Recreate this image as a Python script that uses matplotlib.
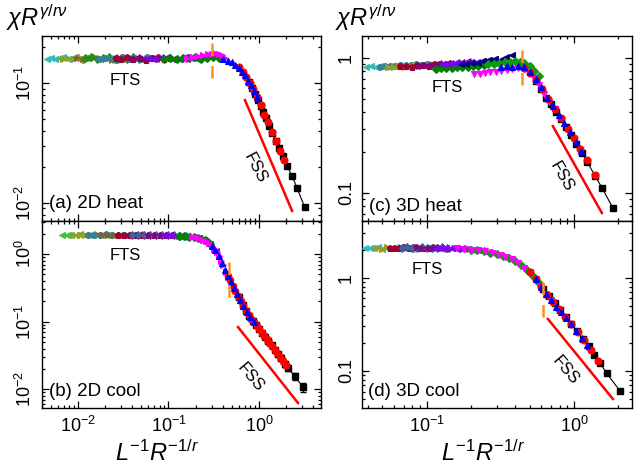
"""
Scaling collapse of the susceptibility chi*R^(gamma/r nu) against L^-1 R^-1/r,
four panels: 2D / 3D, heating / cooling.
"""

import matplotlib
matplotlib.use("Agg")
import matplotlib.pyplot as plt
from matplotlib.ticker import LogLocator, NullFormatter, FixedLocator, FixedFormatter

plt.rcParams['font.family'] = ['Liberation Sans', 'DejaVu Sans']
plt.rcParams['mathtext.fontset'] = 'custom'
plt.rcParams['mathtext.rm'] = 'Liberation Sans'
plt.rcParams['mathtext.it'] = 'Liberation Sans:italic'
plt.rcParams['mathtext.bf'] = 'Liberation Sans:bold'

# ---------------- (a) 2D heat ----------------
a_cyan_x = [0.0045, 0.0050, 0.0056, 0.0062, 0.0069, 0.0077, 0.0086, 0.0096, 0.0107, 0.0120]
a_cyan_y = [0.160, 0.163, 0.158, 0.162, 0.165, 0.159, 0.161, 0.164, 0.157, 0.162]
a_olive_x = [0.0068, 0.0078, 0.0090, 0.0103, 0.0118, 0.0136, 0.0156, 0.0180, 0.0207, 0.0238]
a_olive_y = [0.158, 0.163, 0.160, 0.166, 0.157, 0.162, 0.164, 0.159, 0.163, 0.160]
a_brown_x = [0.0095, 0.0110, 0.0128, 0.0148, 0.0172, 0.0200, 0.0232, 0.0269, 0.0312, 0.0362]
a_brown_y = [0.163, 0.158, 0.161, 0.165, 0.159, 0.162, 0.157, 0.164, 0.160, 0.163]
a_green_x = [0.0120, 0.0140, 0.0163, 0.0190, 0.0221, 0.0257, 0.0299, 0.0348, 0.0405, 0.0471]
a_green_y = [0.161, 0.166, 0.158, 0.162, 0.164, 0.159, 0.163, 0.160, 0.165, 0.158]
a_teal_x = [0.0170, 0.0198, 0.0231, 0.0269, 0.0313, 0.0365, 0.0425, 0.0495, 0.0577, 0.0672]
a_teal_y = [0.159, 0.163, 0.161, 0.157, 0.165, 0.160, 0.162, 0.158, 0.164, 0.161]
a_dred_x = [0.026, 0.030, 0.035, 0.041, 0.048, 0.056, 0.065, 0.076, 0.089, 0.104]
a_dred_y = [0.162, 0.158, 0.164, 0.160, 0.163, 0.157, 0.161, 0.165, 0.159, 0.162]
a_purple_x = [0.040, 0.047, 0.055, 0.064, 0.075, 0.088, 0.103, 0.120, 0.140, 0.164]
a_purple_y = [0.160, 0.164, 0.158, 0.162, 0.159, 0.165, 0.161, 0.158, 0.163, 0.160]
a_violet_x = [0.060, 0.070, 0.082, 0.096, 0.112, 0.131, 0.153, 0.179, 0.209, 0.245]
a_violet_y = [0.163, 0.159, 0.161, 0.166, 0.160, 0.158, 0.164, 0.162, 0.159, 0.163]
a_dgreen_x = [0.090, 0.105, 0.123, 0.144, 0.168, 0.196, 0.229, 0.268, 0.313, 0.366]
a_dgreen_y = [0.160, 0.163, 0.158, 0.162, 0.161, 0.165, 0.159, 0.163, 0.166, 0.162]
a_magenta_x = [0.16, 0.185, 0.21, 0.24, 0.27, 0.30, 0.33, 0.36, 0.39, 0.42]
a_magenta_y = [0.162, 0.165, 0.168, 0.171, 0.174, 0.176, 0.177, 0.175, 0.170, 0.163]
a_blue_x = [0.40, 0.45, 0.50, 0.55, 0.60, 0.65, 0.70, 0.76, 0.82, 0.88, 0.95]
a_blue_y = [0.160, 0.153, 0.149, 0.141, 0.134, 0.124, 0.117, 0.104, 0.096, 0.085, 0.076]
a_red_x = [0.60, 0.66, 0.72, 0.79, 0.86, 0.95, 1.04, 1.15, 1.27, 1.40, 1.55, 1.72, 1.90]
a_red_y = [0.136, 0.124, 0.113, 0.100, 0.089, 0.076, 0.065, 0.054, 0.047, 0.039, 0.033, 0.027, 0.023]
a_black_x = [0.78, 0.84, 0.90, 0.97, 1.04, 1.12, 1.20, 1.30, 1.41, 1.53, 1.66, 1.82, 2.04, 2.32, 2.63, 3.20]
a_black_y = [0.101, 0.091, 0.081, 0.072, 0.064, 0.057, 0.051, 0.044, 0.038, 0.033, 0.029, 0.0245,
             0.0204, 0.0168, 0.0134, 0.0092]
a_cross_x = 0.30
a_cross_y = [0.11, 0.2465]
a_fss_x = [0.70, 2.32]
a_fss_y = [0.072, 0.0086]

# ---------------- (b) 2D cool ----------------
b_green_x = [0.0067, 0.0075, 0.0084, 0.0094, 0.0105, 0.0118, 0.0132, 0.0148, 0.0166, 0.0186, 0.0208]
b_green_y = [1.90, 1.94, 1.88, 1.92, 1.95, 1.89, 1.93, 1.90, 1.94, 1.88, 1.92]
b_olive_x = [0.0090, 0.0104, 0.0120, 0.0139, 0.0161, 0.0186, 0.0215, 0.0249, 0.0288, 0.0333]
b_olive_y = [1.92, 1.88, 1.93, 1.90, 1.95, 1.89, 1.91, 1.94, 1.88, 1.92]
b_teal_x = [0.0130, 0.0151, 0.0175, 0.0203, 0.0236, 0.0274, 0.0318, 0.0369, 0.0428, 0.0497]
b_teal_y = [1.89, 1.93, 1.91, 1.95, 1.88, 1.92, 1.94, 1.89, 1.91, 1.93]
b_brown_x = [0.018, 0.021, 0.0244, 0.0283, 0.0329, 0.0382, 0.0444, 0.0516, 0.060, 0.070]
b_brown_y = [1.93, 1.89, 1.92, 1.88, 1.94, 1.90, 1.92, 1.95, 1.89, 1.91]
b_dred_x = [0.028, 0.0325, 0.0378, 0.044, 0.051, 0.059, 0.069, 0.080, 0.093, 0.108]
b_dred_y = [1.90, 1.94, 1.89, 1.92, 1.88, 1.93, 1.91, 1.89, 1.92, 1.88]
b_slate_x = [0.040, 0.0465, 0.054, 0.063, 0.073, 0.085, 0.099, 0.115, 0.134, 0.156]
b_slate_y = [1.92, 1.89, 1.94, 1.90, 1.91, 1.88, 1.92, 1.89, 1.86, 1.84]
b_purple_x = [0.060, 0.070, 0.081, 0.094, 0.109, 0.127, 0.147, 0.171, 0.198, 0.23]
b_purple_y = [1.91, 1.88, 1.93, 1.89, 1.90, 1.87, 1.86, 1.82, 1.78, 1.70]
b_violet_x = [0.09, 0.104, 0.12, 0.139, 0.161, 0.186, 0.215, 0.249, 0.288, 0.333]
b_violet_y = [1.89, 1.90, 1.87, 1.86, 1.81, 1.79, 1.72, 1.60, 1.40, 1.12]
b_dgreen_x = [0.13, 0.15, 0.17, 0.19, 0.21, 0.23, 0.25, 0.27, 0.29]
b_dgreen_y = [1.86, 1.84, 1.80, 1.79, 1.75, 1.68, 1.60, 1.50, 1.39]
b_magenta_x = [0.18, 0.20, 0.22, 0.24, 0.26, 0.28, 0.30, 0.32, 0.34, 0.36, 0.38, 0.40, 0.43, 0.46, 0.50]
b_magenta_y = [1.80, 1.76, 1.71, 1.64, 1.55, 1.45, 1.33, 1.20, 1.06, 0.92, 0.79, 0.68, 0.55, 0.45, 0.35]
b_blue_x = [0.30, 0.33, 0.36, 0.39, 0.42, 0.45, 0.49, 0.53, 0.57, 0.62, 0.67, 0.73, 0.80, 0.87]
b_blue_y = [1.33, 1.13, 0.92, 0.73, 0.59, 0.48, 0.38, 0.31, 0.26, 0.21, 0.172, 0.141, 0.117, 0.100]
b_red_x = [0.45, 0.48, 0.51, 0.55, 0.59, 0.63, 0.67, 0.72, 0.77, 0.82, 0.88, 0.94, 1.00, 1.07,
           1.14, 1.22, 1.30, 1.40, 1.50, 1.60, 1.72, 1.85, 2.0]
b_red_y = [0.48, 0.41, 0.34, 0.28, 0.24, 0.205, 0.172, 0.145, 0.125, 0.110, 0.098, 0.087, 0.078, 0.069,
           0.062, 0.055, 0.049, 0.043, 0.038, 0.034, 0.030, 0.026, 0.0225]
b_red_err = [0.03, 0.025, 0.02, 0.017, 0.015, 0.013, 0.011, 0.01, 0.009, 0.008, 0.007, 0.0065, 0.006,
             0.0055, 0.005, 0.0045, 0.004, 0.0037, 0.0034, 0.003, 0.0028, 0.0025, 0.0022]
b_black_x = [0.60, 0.66, 0.72, 0.78, 0.85, 0.92, 1.00, 1.08, 1.17, 1.27, 1.38, 1.50, 1.63, 1.77,
             1.92, 2.09, 2.50, 3.06]
b_black_y = [0.232, 0.178, 0.145, 0.122, 0.103, 0.090, 0.078, 0.068, 0.060, 0.052, 0.045, 0.038,
             0.033, 0.029, 0.024, 0.0206, 0.0155, 0.0108]
b_black_err = [0.012, 0.01, 0.008, 0.007, 0.006, 0.0055, 0.005, 0.0045, 0.004, 0.0037, 0.0034, 0.003,
               0.0028, 0.0026, 0.0024, 0.0022, 0.002, 0.0017]
b_cross_x = 0.467
b_cross_y = [0.231, 0.90]
b_fss_x = [0.586, 2.70]
b_fss_y = [0.0832, 0.00625]

# ---------------- (c) 3D heat ----------------
c_cyan_x = [0.039, 0.042, 0.045, 0.048, 0.052, 0.056, 0.060, 0.065, 0.070, 0.075]
c_cyan_y = [0.860, 0.872, 0.864, 0.876, 0.868, 0.880, 0.874, 0.886, 0.878, 0.890]
c_teal_x = [0.048, 0.052, 0.056, 0.061, 0.066, 0.072, 0.078, 0.085, 0.092, 0.100]
c_teal_y = [0.866, 0.874, 0.880, 0.872, 0.888, 0.894, 0.886, 0.902, 0.896, 0.910]
c_olive_x = [0.055, 0.060, 0.065, 0.071, 0.077, 0.084, 0.091, 0.099, 0.108, 0.117]
c_olive_y = [0.856, 0.866, 0.872, 0.864, 0.880, 0.886, 0.878, 0.894, 0.900, 0.892]
c_dred_x = [0.066, 0.072, 0.079, 0.086, 0.094, 0.103, 0.112, 0.122, 0.133, 0.145]
c_dred_y = [0.870, 0.878, 0.868, 0.886, 0.894, 0.884, 0.904, 0.912, 0.900, 0.920]
c_purple_x = [0.088, 0.096, 0.105, 0.115, 0.126, 0.138, 0.151, 0.165, 0.180, 0.197]
c_purple_y = [0.884, 0.896, 0.890, 0.908, 0.918, 0.912, 0.930, 0.940, 0.934, 0.952]
c_dgreen_x = [0.115, 0.125, 0.136, 0.148, 0.161, 0.175, 0.190, 0.207, 0.225, 0.245]
c_dgreen_y = [0.836, 0.842, 0.850, 0.846, 0.858, 0.866, 0.862, 0.874, 0.880, 0.888]
c_violet_x = [0.13, 0.142, 0.155, 0.169, 0.184, 0.201, 0.219, 0.239, 0.261, 0.285]
c_violet_y = [0.900, 0.912, 0.920, 0.916, 0.936, 0.946, 0.942, 0.962, 0.970, 0.984]
c_navy_x = [0.17, 0.186, 0.203, 0.222, 0.243, 0.265, 0.29, 0.317, 0.346, 0.378]
c_navy_y = [0.905, 0.915, 0.930, 0.925, 0.950, 0.965, 0.985, 0.975, 1.02, 1.06]
c_magenta_x = [0.21, 0.23, 0.25, 0.27, 0.295, 0.32, 0.35, 0.38, 0.42, 0.46, 0.50, 0.54, 0.58, 0.63,
               0.68, 0.74]
c_magenta_y = [0.760, 0.770, 0.774, 0.786, 0.794, 0.800, 0.816, 0.834, 0.850, 0.840, 0.780, 0.710,
               0.630, 0.540, 0.470, 0.420]
c_green_x = [0.26, 0.285, 0.31, 0.34, 0.37, 0.40, 0.43, 0.46, 0.50, 0.54, 0.58]
c_green_y = [0.900, 0.912, 0.926, 0.936, 0.944, 0.948, 0.946, 0.930, 0.880, 0.800, 0.740]
c_blue_x = [0.32, 0.35, 0.38, 0.42, 0.46, 0.50, 0.55, 0.60, 0.66, 0.72, 0.79, 0.86, 0.94, 1.03, 1.12]
c_blue_y = [0.862, 0.870, 0.868, 0.874, 0.860, 0.790, 0.700, 0.610, 0.510, 0.440, 0.380, 0.330,
            0.282, 0.238, 0.206]
c_red_x = [0.46, 0.50, 0.55, 0.61, 0.67, 0.74, 0.82, 0.91, 1.00, 1.10, 1.22, 1.39]
c_red_y = [0.850, 0.780, 0.690, 0.590, 0.495, 0.420, 0.360, 0.300, 0.255, 0.213, 0.176, 0.136]
c_black_x = [0.55, 0.60, 0.65, 0.70, 0.76, 0.82, 0.89, 0.96, 1.04, 1.13, 1.23, 1.39, 1.55, 1.84]
c_black_y = [0.675, 0.590, 0.510, 0.455, 0.400, 0.355, 0.310, 0.270, 0.232, 0.198, 0.170, 0.134,
             0.109, 0.077]
c_cross_x = 0.444
c_cross_y = [0.633, 1.21]
c_fss_x = [0.720, 1.55]
c_fss_y = [0.313, 0.0706]

# ---------------- (d) 3D cool ----------------
d_cyan_x = [0.038, 0.041, 0.044, 0.047, 0.050, 0.054, 0.058, 0.062, 0.067, 0.072]
d_cyan_y = [2.06, 2.10, 2.07, 2.11, 2.05, 2.09, 2.08, 2.12, 2.06, 2.10]
d_olive_x = [0.046, 0.050, 0.054, 0.058, 0.063, 0.068, 0.073, 0.079, 0.085, 0.092]
d_olive_y = [2.08, 2.05, 2.11, 2.07, 2.10, 2.06, 2.12, 2.08, 2.05, 2.10]
d_dred_x = [0.056, 0.060, 0.065, 0.070, 0.076, 0.082, 0.088, 0.095, 0.103, 0.111]
d_dred_y = [2.10, 2.06, 2.09, 2.12, 2.07, 2.11, 2.06, 2.10, 2.08, 2.12]
d_slate_x = [0.068, 0.074, 0.080, 0.086, 0.093, 0.101, 0.109, 0.118, 0.127, 0.138]
d_slate_y = [2.07, 2.11, 2.06, 2.09, 2.12, 2.07, 2.10, 2.06, 2.11, 2.08]
d_purple_x = [0.085, 0.092, 0.100, 0.108, 0.117, 0.127, 0.138, 0.149, 0.162, 0.175, 0.19]
d_purple_y = [2.11, 2.07, 2.10, 2.06, 2.12, 2.08, 2.05, 2.10, 2.06, 2.04, 2.02]
d_violet_x = [0.115, 0.125, 0.136, 0.148, 0.161, 0.175, 0.19, 0.207, 0.225, 0.245, 0.266]
d_violet_y = [2.06, 2.10, 2.07, 2.09, 2.05, 2.06, 2.02, 2.00, 1.96, 1.92, 1.88]
d_green_x = [0.20, 0.22, 0.245, 0.27, 0.30, 0.33, 0.36, 0.40, 0.44, 0.48, 0.53, 0.58]
d_green_y = [2.00, 1.96, 1.92, 1.86, 1.78, 1.70, 1.62, 1.50, 1.36, 1.22, 1.04, 0.88]
d_magenta_x = [0.16, 0.18, 0.20, 0.225, 0.25, 0.28, 0.31, 0.34, 0.38, 0.42, 0.46, 0.50, 0.55, 0.60,
               0.65, 0.70]
d_magenta_y = [2.06, 2.03, 2.00, 1.96, 1.91, 1.84, 1.76, 1.68, 1.57, 1.43, 1.28, 1.14, 0.96, 0.80,
               0.67, 0.58]
d_blue_x = [0.55, 0.60, 0.65, 0.70, 0.76, 0.82, 0.89, 0.96, 1.04, 1.13, 1.22]
d_blue_y = [0.96, 0.80, 0.67, 0.58, 0.49, 0.43, 0.37, 0.32, 0.27, 0.225, 0.19]
d_red_x = [0.50, 0.55, 0.60, 0.66, 0.72, 0.79, 0.87, 0.96, 1.06, 1.17, 1.30, 1.45]
d_red_y = [1.14, 0.96, 0.80, 0.65, 0.55, 0.46, 0.38, 0.32, 0.26, 0.213, 0.168, 0.128]
d_black_x = [0.62, 0.68, 0.74, 0.81, 0.88, 0.96, 1.05, 1.15, 1.26, 1.38, 1.50, 1.675, 2.05]
d_black_y = [0.76, 0.63, 0.53, 0.445, 0.38, 0.32, 0.265, 0.222, 0.183, 0.150, 0.123, 0.094, 0.0615]
d_cross_x = 0.616
d_cross_y = [0.377, 0.99]
d_fss_x = [0.666, 1.84]
d_fss_y = [0.361, 0.0501]

# colours
CYAN = '#33BBBB'
TEAL = '#3A7F9A'
OLIVE = '#9C9C22'
BROWN = '#8B5A2B'
LGREEN = '#44C044'
DRED = '#990033'
PURPLE = '#800080'
VIOLET = '#8000FF'
DGREEN = '#007F00'
GREEN = '#119911'
SLATE = '#4060A0'
NAVY = '#000080'
MAGENTA = '#FF00FF'
BLUE = '#0000FF'
RED = '#FF0000'
ORANGE = '#FF9020'


def draw_points(ax, x, y, color, marker, ms=4.5, z=3):
    ax.plot(x, y, linestyle='none', marker=marker, color=color, ms=ms,
            mec=color, mew=0.8, zorder=z)


def draw_black(ax, x, y, yerr=None):
    if yerr is None:
        ax.plot(x, y, '-s', color='black', lw=0.8, ms=4.5, zorder=2.5)
    else:
        ax.errorbar(x, y, yerr=yerr, fmt='-s', color='black', lw=0.8, ms=4.5,
                    elinewidth=0.8, capsize=2, zorder=2.5)


def style_axes(ax, xlim, ylim):
    ax.set_xscale('log')
    ax.set_yscale('log')
    ax.set_xlim(*xlim)
    ax.set_ylim(*ylim)
    ax.tick_params(which='both', direction='in', top=True, right=True, width=0.9,
                   labelsize=13)
    ax.tick_params(which='major', length=5)
    ax.tick_params(which='minor', length=2.5)
    ax.tick_params(axis='y', pad=5)
    ax.tick_params(axis='x', pad=6)
    ax.xaxis.set_minor_locator(LogLocator(base=10, subs=range(2, 10), numticks=20))
    ax.yaxis.set_minor_locator(LogLocator(base=10, subs=range(2, 10), numticks=20))
    ax.xaxis.set_minor_formatter(NullFormatter())
    ax.yaxis.set_minor_formatter(NullFormatter())
    for s in ax.spines.values():
        s.set_linewidth(1.0)


def decorate(ax, cross_x, cross_y, fss_x, fss_y, fts_pos, fss_pos, fss_rot, label, label_pos):
    ax.plot([cross_x, cross_x], cross_y, color=ORANGE, lw=1.8, ls=(0, (5, 4)), zorder=5)
    ax.plot(fss_x, fss_y, color=RED, lw=1.8, zorder=2)
    ax.text(*fts_pos, 'FTS', transform=ax.transAxes, fontsize=12, ha='center', va='center')
    ax.text(*fss_pos, 'FSS', transform=ax.transAxes, fontsize=12, ha='center', va='center',
            rotation=fss_rot)
    ax.text(*label_pos, label, transform=ax.transAxes, fontsize=13.5, ha='left', va='center')


fig = plt.figure(figsize=(6.39, 4.70), dpi=100)

ax_a = fig.add_axes([0.0657, 0.5298, 0.4366, 0.3936])
ax_b = fig.add_axes([0.0657, 0.1319, 0.4366, 0.3979])
ax_c = fig.add_axes([0.5665, 0.5298, 0.4225, 0.3936])
ax_d = fig.add_axes([0.5665, 0.1319, 0.4225, 0.3979])

# (a)
for x, y, c, m in [(a_cyan_x, a_cyan_y, CYAN, '<'), (a_olive_x, a_olive_y, OLIVE, '>'),
                   (a_brown_x, a_brown_y, BROWN, '*'), (a_green_x, a_green_y, GREEN, 'd'),
                   (a_teal_x, a_teal_y, TEAL, 'h'), (a_dred_x, a_dred_y, DRED, 'p'),
                   (a_purple_x, a_purple_y, PURPLE, '*'), (a_violet_x, a_violet_y, VIOLET, '<'),
                   (a_dgreen_x, a_dgreen_y, DGREEN, 'D'), (a_magenta_x, a_magenta_y, MAGENTA, '>')]:
    draw_points(ax_a, x, y, c, m)
draw_black(ax_a, a_black_x, a_black_y)
draw_points(ax_a, a_red_x, a_red_y, RED, 'o', ms=5)
draw_points(ax_a, a_blue_x, a_blue_y, BLUE, '^', z=3.2)

# (b)
for x, y, c, m in [(b_green_x, b_green_y, LGREEN, '<'), (b_olive_x, b_olive_y, OLIVE, '>'),
                   (b_teal_x, b_teal_y, TEAL, 'h'), (b_brown_x, b_brown_y, BROWN, '*'),
                   (b_dred_x, b_dred_y, DRED, 'p'), (b_slate_x, b_slate_y, SLATE, 'd'),
                   (b_purple_x, b_purple_y, PURPLE, '*'), (b_violet_x, b_violet_y, VIOLET, '<'),
                   (b_dgreen_x, b_dgreen_y, DGREEN, 'D'), (b_magenta_x, b_magenta_y, MAGENTA, '>')]:
    draw_points(ax_b, x, y, c, m)
draw_black(ax_b, b_black_x, b_black_y, b_black_err)
ax_b.errorbar(b_red_x, b_red_y, yerr=b_red_err, fmt='o', color=RED, ms=4.5, elinewidth=0.8,
              capsize=2, zorder=3)
draw_points(ax_b, b_blue_x, b_blue_y, BLUE, '^', z=3.2)

# (c)
for x, y, c, m in [(c_cyan_x, c_cyan_y, CYAN, '<'), (c_teal_x, c_teal_y, TEAL, 'h'),
                   (c_olive_x, c_olive_y, OLIVE, '>'), (c_dred_x, c_dred_y, DRED, 'p'),
                   (c_purple_x, c_purple_y, PURPLE, '*'), (c_dgreen_x, c_dgreen_y, DGREEN, 'D'),
                   (c_violet_x, c_violet_y, VIOLET, '<'), (c_navy_x, c_navy_y, NAVY, '<'),
                   (c_magenta_x, c_magenta_y, MAGENTA, 'v'), (c_green_x, c_green_y, GREEN, 'D')]:
    draw_points(ax_c, x, y, c, m)
draw_black(ax_c, c_black_x, c_black_y)
draw_points(ax_c, c_red_x, c_red_y, RED, 'o', ms=5)
draw_points(ax_c, c_blue_x, c_blue_y, BLUE, '^', z=3.2)

# (d)
for x, y, c, m in [(d_cyan_x, d_cyan_y, CYAN, '<'), (d_olive_x, d_olive_y, OLIVE, '>'),
                   (d_dred_x, d_dred_y, DRED, 'p'), (d_slate_x, d_slate_y, SLATE, 'd'),
                   (d_purple_x, d_purple_y, PURPLE, '*'), (d_violet_x, d_violet_y, VIOLET, '<'),
                   (d_green_x, d_green_y, GREEN, 'D'), (d_magenta_x, d_magenta_y, MAGENTA, 'v')]:
    draw_points(ax_d, x, y, c, m)
draw_black(ax_d, d_black_x, d_black_y)
draw_points(ax_d, d_red_x, d_red_y, RED, 'o', ms=5)
draw_points(ax_d, d_blue_x, d_blue_y, BLUE, '^', z=3.2)

style_axes(ax_a, (0.0040, 4.84), (0.00708, 0.2465))
style_axes(ax_b, (0.0040, 4.84), (0.00528, 3.08))
style_axes(ax_c, (0.0364, 2.48), (0.0616, 1.466))
style_axes(ax_d, (0.0364, 2.48), (0.0401, 4.05))

ax_a.set_xticklabels([])
ax_c.set_xticklabels([])
for ax in (ax_c, ax_d):
    ax.yaxis.set_major_locator(FixedLocator([0.1, 1]))
    ax.yaxis.set_major_formatter(FixedFormatter(['0.1', '1']))
for ax in (ax_a, ax_b, ax_c, ax_d):
    for lab in ax.get_yticklabels():
        lab.set_rotation(90)
        lab.set_va('center')

decorate(ax_a, a_cross_x, a_cross_y, a_fss_x, a_fss_y, (0.297, 0.762), (0.763, 0.286), -62,
         '(a) 2D heat', (0.025, 0.097))
decorate(ax_b, b_cross_x, b_cross_y, b_fss_x, b_fss_y, (0.297, 0.818), (0.746, 0.166), -50,
         '(b) 2D cool', (0.025, 0.086))
decorate(ax_c, c_cross_x, c_cross_y, c_fss_x, c_fss_y, (0.315, 0.719), (0.741, 0.238), -60,
         '(c) 3D heat', (0.027, 0.076))
decorate(ax_d, d_cross_x, d_cross_y, d_fss_x, d_fss_y, (0.241, 0.738), (0.752, 0.203), -50,
         '(d) 3D cool', (0.022, 0.086))

fig.text(6 / 639, 1 - 18 / 470, r'$\chi R^{\gamma/r\nu}$', fontsize=17, ha='left', va='center')
fig.text(335 / 639, 1 - 18 / 470, r'$\chi R^{\gamma/r\nu}$', fontsize=17, ha='left', va='center')
fig.text(157 / 639, 1 - 453 / 470, r'$L^{-1}R^{-1/r}$', fontsize=17, ha='center', va='center')
fig.text(483 / 639, 1 - 453 / 470, r'$L^{-1}R^{-1/r}$', fontsize=17, ha='center', va='center')

fig.savefig('out.png', dpi=100)
